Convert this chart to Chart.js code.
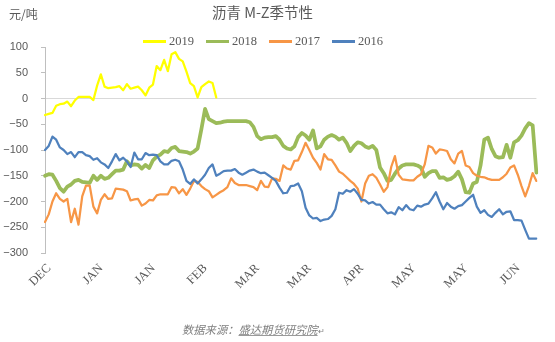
<!DOCTYPE html>
<html>
<head>
<meta charset="utf-8">
<script src="https://cdn.jsdelivr.net/npm/chart.js@4/dist/chart.umd.min.js"></script>
<style>
  html, body { margin: 0; padding: 0; background: #fff; }
  #wrap { position: relative; width: 555px; height: 342px; overflow: hidden; }
  #c { position: absolute; left: 0; top: 0; }
  .unit { position: absolute; left: 9px; top: 6px; font: 12px/16px "Noto Sans CJK SC", sans-serif; color: #595959; }
  .title { position: absolute; left: 0; top: 2px; width: 525px; text-align: center; font: 14.5px/20px "Noto Sans CJK SC", sans-serif; color: #595959; }
  #legend { position: absolute; left: 143px; top: 33px; display: flex; gap: 12px; align-items: center; }
  #legend .item { display: flex; align-items: center; gap: 3px; font: 12.5px/17px "Liberation Serif", serif; color: #595959; }
  #legend .swatch { width: 23px; }
  .src { position: absolute; left: 182px; top: 321px; font: italic 11.3px/16px "Noto Sans CJK SC", sans-serif; color: #7f7f7f; }
  .src u { text-decoration-color: #9a9a9a; }
  .src .mark { font-size: 8px; font-style: normal; }
</style>
</head>
<body>
<div id="wrap">
  <canvas id="c" width="555" height="342"></canvas>
  <div class="unit">元/吨</div>
  <div class="title">沥青 M-Z季节性</div>
  <div id="legend"></div>
  <div class="src">数据来源：<u>盛达期货研究院</u><span class="mark">↵</span></div>
</div>
<script>
// Month markers shown along the category axis, one every `tickEvery` trading days
const monthTicks = ['DEC', 'JAN', 'JAN', 'FEB', 'MAR', 'MAR', 'APR', 'MAY', 'MAY', 'JUN'];
const tickEvery = 14;

// M-Z spread (元/吨) by trading day, December to June
const series2019 = [-32, -30, -28, -14, -11, -10, -6, -15, -4, 3, 3, 3, 3, -3, 25, 47, 23, 20, 21, 22,
  24, 16, 28, 19, 21, 23, 16, 6, 21, 27, 63, 55, 75, 53, 86, 90, 77, 72, 52, 30,
  24, 2, 22, 28, 33, 30, 2];

const series2018 = [-150, -147, -148, -160, -174, -181, -171, -167, -160, -158, -162, -163, -164, -150, -158, -150, -156, -154, -147, -140,
  -140, -138, -122, -130, -128, -129, -136, -129, -135, -120, -113, -109, -102, -104, -96, -94, -102, -103, -104, -107,
  -103, -97, -60, -20, -40, -44, -48, -47, -45, -44, -44, -44, -44, -44, -44, -46, -55, -73, -79, -76,
  -75, -75, -73, -80, -92, -97, -99, -93, -75, -67, -72, -80, -62, -97, -93, -80, -74, -71, -74, -80,
  -76, -86, -102, -92, -85, -87, -93, -96, -92, -100, -134, -145, -160, -158, -146, -136, -130, -128, -128, -128,
  -130, -134, -152, -145, -141, -141, -154, -153, -158, -156, -151, -142, -157, -182, -183, -165, -162, -130, -80, -76,
  -98, -112, -115, -114, -90, -115, -85, -81, -72, -58, -48, -52, -144];

const series2017 = [-240, -225, -200, -184, -195, -200, -195, -240, -214, -245, -190, -169, -169, -210, -223, -197, -186, -195, -194, -175,
  -176, -177, -180, -198, -196, -195, -208, -204, -197, -198, -188, -186, -186, -186, -172, -173, -184, -176, -187, -175,
  -160, -162, -170, -176, -180, -192, -187, -182, -178, -172, -155, -164, -168, -168, -168, -170, -172, -178, -160, -171,
  -172, -155, -156, -160, -130, -136, -138, -121, -120, -104, -86, -100, -115, -125, -138, -108, -118, -119, -130, -142,
  -146, -153, -160, -166, -175, -200, -165, -150, -147, -154, -167, -181, -172, -133, -112, -148, -157, -158, -159, -159,
  -152, -147, -128, -92, -95, -107, -99, -100, -102, -118, -126, -107, -102, -130, -133, -145, -150, -152, -153, -156,
  -158, -158, -158, -153, -146, -134, -130, -148, -170, -190, -170, -145, -160];

const series2016 = [-100, -92, -74, -80, -95, -100, -108, -104, -114, -104, -104, -110, -112, -119, -116, -124, -128, -135, -122, -108,
  -120, -115, -122, -133, -105, -118, -118, -106, -110, -109, -110, -122, -128, -128, -121, -119, -122, -138, -160, -166,
  -157, -165, -157, -148, -135, -128, -150, -146, -141, -140, -140, -137, -144, -148, -144, -140, -138, -142, -145, -144,
  -149, -154, -160, -173, -184, -183, -170, -169, -165, -180, -212, -227, -233, -232, -238, -235, -234, -228, -215, -183,
  -185, -178, -181, -176, -185, -197, -198, -204, -201, -206, -206, -215, -223, -221, -225, -211, -217, -207, -215, -217,
  -208, -210, -206, -204, -194, -182, -200, -215, -203, -210, -214, -209, -207, -200, -193, -187, -210, -222, -217, -226,
  -230, -222, -215, -225, -220, -219, -236, -236, -237, -255, -272, -272, -272];

const seriesNames = ['2019', '2018', '2017', '2016'];
const seriesColors = ['#FFFF00', '#9BBB59', '#F79646', '#4F81BD'];
const seriesWidths = [2.25, 3.75, 2.25, 2.25];
const seriesValues = [series2019, series2018, series2017, series2016];

const dayCount = series2016.length;
const categories = Array.from({ length: dayCount }, (_, i) =>
  i % tickEvery === 0 && monthTicks[i / tickEvery] ? monthTicks[i / tickEvery] : '');

const datasets = seriesNames.map((name, k) => ({
  label: name,
  data: seriesValues[k],
  borderColor: seriesColors[k],
  backgroundColor: seriesColors[k],
  borderWidth: seriesWidths[k],
  pointRadius: 0,
  tension: 0,
  fill: false,
  borderJoinStyle: 'round',
  borderCapStyle: 'round',
  order: seriesNames.length - k
}));

const chart = new Chart(document.getElementById('c'), {
  type: 'line',
  data: { labels: categories, datasets },
  options: {
    responsive: false,
    animation: false,
    layout: { padding: { top: 47, right: 11, bottom: 49, left: 0 } },
    plugins: {
      legend: { display: false },
      title: { display: false },
      tooltip: { enabled: false }
    },
    scales: {
      x: {
        type: 'category',
        offset: false,
        grid: { display: false, drawTicks: false },
        border: { display: false },
        ticks: {
          autoSkip: false,
          maxRotation: 45,
          minRotation: 45,
          padding: 8,
          labelOffset: 4,
          color: '#595959',
          font: { family: 'Liberation Serif', size: 12.5 }
        },
        afterFit: s => { s.height = 40; }
      },
      y: {
        min: -300,
        max: 100,
        ticks: {
          stepSize: 50,
          padding: 13,
          color: '#595959',
          font: { family: 'Liberation Sans', size: 11 },
          callback: v => String(v).replace('-', '\u2212')
        },
        grid: {
          color: c => (c.tick && c.tick.value === 0 ? '#d9d9d9' : 'rgba(0,0,0,0)'),
          tickColor: '#bfbfbf',
          tickLength: 4,
          lineWidth: 1
        },
        border: { color: '#bfbfbf', width: 1 },
        afterFit: s => { s.width = 45; }
      }
    }
  }
});

// Legend built from the chart's own datasets
const legendBox = document.getElementById('legend');
chart.data.datasets.forEach(ds => {
  const item = document.createElement('div');
  item.className = 'item';
  const sw = document.createElement('div');
  sw.className = 'swatch';
  sw.style.height = ds.borderWidth + 'px';
  sw.style.background = ds.borderColor;
  const txt = document.createElement('span');
  txt.textContent = ds.label;
  item.appendChild(sw);
  item.appendChild(txt);
  legendBox.appendChild(item);
});
</script>
</body>
</html>
